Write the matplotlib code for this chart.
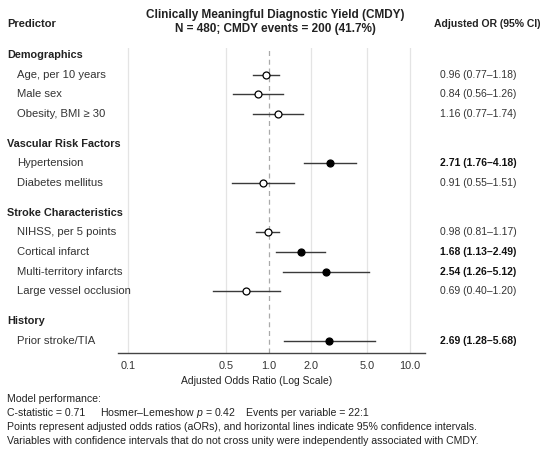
import matplotlib.pyplot as plt
from matplotlib.transforms import blended_transform_factory

plt.rcParams['font.family'] = ['Liberation Sans', 'DejaVu Sans']
plt.rcParams['mathtext.fontset'] = 'custom'
plt.rcParams['mathtext.it'] = 'Liberation Sans:italic'
plt.rcParams['mathtext.rm'] = 'Liberation Sans'

# Forest plot data (adjusted odds ratios with 95% CI)
sections = ['Demographics', 'Vascular Risk Factors', 'Stroke Characteristics', 'History']
section_items = [
    ['Age, per 10 years', 'Male sex', 'Obesity, BMI \u2265 30'],
    ['Hypertension', 'Diabetes mellitus'],
    ['NIHSS, per 5 points', 'Cortical infarct', 'Multi-territory infarcts', 'Large vessel occlusion'],
    ['Prior stroke/TIA'],
]
odds_ratio = [0.96, 0.84, 1.16, 2.71, 0.91, 0.98, 1.68, 2.54, 0.69, 2.69]
ci_low = [0.77, 0.56, 0.77, 1.76, 0.55, 0.81, 1.13, 1.26, 0.40, 1.28]
ci_high = [1.18, 1.26, 1.74, 4.18, 1.51, 1.17, 2.49, 5.12, 1.20, 5.68]
tick_values = [0.1, 0.5, 1.0, 2.0, 5.0, 10.0]
tick_labels = ['0.1', '0.5', '1.0', '2.0', '5.0', '10.0']

W, H = 550, 458
fig = plt.figure(figsize=(W / 100, H / 100), dpi=100)

def fx(px):
    return px / W

def fy(py):
    return 1 - py / H

# plot area in pixels
ax_left, ax_right, ax_top, ax_bottom = 118, 425, 48, 353
ax = fig.add_axes([fx(ax_left), fy(ax_bottom), fx(ax_right - ax_left), (ax_bottom - ax_top) / H])

unit = 19.7
first_row = 55
ax.set_ylim((ax_bottom - first_row) / unit, (ax_top - first_row) / unit)
ax.set_xscale('log')
ax.set_xlim(0.085, 12.8)

# row positions: section header then its items
header_pos = []
item_pos = []
pos = 0.0
for i, items in enumerate(section_items):
    if i > 0:
        pos += 1.5
    header_pos.append(pos)
    for _ in items:
        pos += 1.0
        item_pos.append(pos)

item_names = [name for items in section_items for name in items]

# grid
for t in tick_values:
    if t == 1.0:
        ax.axvline(t, color='#aaaaaa', lw=0.9, ls=(0, (4, 3)), zorder=1)
    else:
        ax.axvline(t, color='#e4e4e4', lw=0.9, zorder=0)

for y, orv, lo, hi in zip(item_pos, odds_ratio, ci_low, ci_high):
    sig = lo > 1 or hi < 1
    ax.plot([lo, hi], [y, y], color='#3a3a3a', lw=1.0, zorder=2)
    ax.plot(orv, y, 'o', ms=5, mfc='black' if sig else 'white',
            mec='black', mew=0.9, zorder=3)

ax.set_xticks(tick_values)
ax.set_xticklabels(tick_labels)
ax.minorticks_off()
ax.set_yticks([])
ax.tick_params(axis='x', length=0, pad=6, labelsize=7.8, labelcolor='#333333')
for s in ['top', 'left', 'right']:
    ax.spines[s].set_visible(False)
ax.spines['bottom'].set_color('#444444')
ax.spines['bottom'].set_linewidth(1.0)
ax.patch.set_alpha(0)

fig.text(fx(257), fy(381), 'Adjusted Odds Ratio (Log Scale)', ha='center', va='center',
         fontsize=7.5, color='#222222')

# text columns aligned to rows
trans = blended_transform_factory(fig.transFigure, ax.transData)
for name, y in zip(sections, header_pos):
    ax.text(fx(7), y, name, transform=trans, ha='left', va='center',
            fontsize=7.8, fontweight='bold', color='#222222')
for name, y, orv, lo, hi in zip(item_names, item_pos, odds_ratio, ci_low, ci_high):
    sig = lo > 1 or hi < 1
    ax.text(fx(17), y, name, transform=trans, ha='left', va='center',
            fontsize=8.1, color='#333333')
    ax.text(fx(440), y, f'{orv:.2f} ({lo:.2f}\u2013{hi:.2f})', transform=trans,
            ha='left', va='center', fontsize=7.5,
            fontweight='bold' if sig else 'normal',
            color='#111111' if sig else '#333333')

# headers
fig.text(fx(7), fy(24), 'Predictor', ha='left', va='center', fontsize=8, fontweight='bold', color='#222222')
fig.text(fx(275), fy(15), 'Clinically Meaningful Diagnostic Yield (CMDY)',
         ha='center', va='center', fontsize=8.5, fontweight='bold', color='#222222')
fig.text(fx(275), fy(29), 'N = 480; CMDY events = 200 (41.7%)',
         ha='center', va='center', fontsize=8.5, fontweight='bold', color='#222222')
fig.text(fx(487), fy(24), 'Adjusted OR (95% CI)', ha='center', va='center', fontsize=7.5,
         fontweight='bold', color='#222222')

# footer notes
foot = dict(ha='left', va='center', fontsize=7.55, color='#222222')
fig.text(fx(7), fy(399), 'Model performance:', **foot)
fig.text(fx(7), fy(413), 'C-statistic = 0.71', **foot)
fig.text(fx(100), fy(413), 'Hosmer\u2013Lemeshow $p$ = 0.42', **foot)
fig.text(fx(246), fy(413), 'Events per variable = 22:1', **foot)
fig.text(fx(7), fy(427), 'Points represent adjusted odds ratios (aORs), and horizontal lines indicate 95% confidence intervals.', **foot)
fig.text(fx(7), fy(441), 'Variables with confidence intervals that do not cross unity were independently associated with CMDY.', **foot)

fig.savefig('out.png', dpi=100, facecolor='white')
